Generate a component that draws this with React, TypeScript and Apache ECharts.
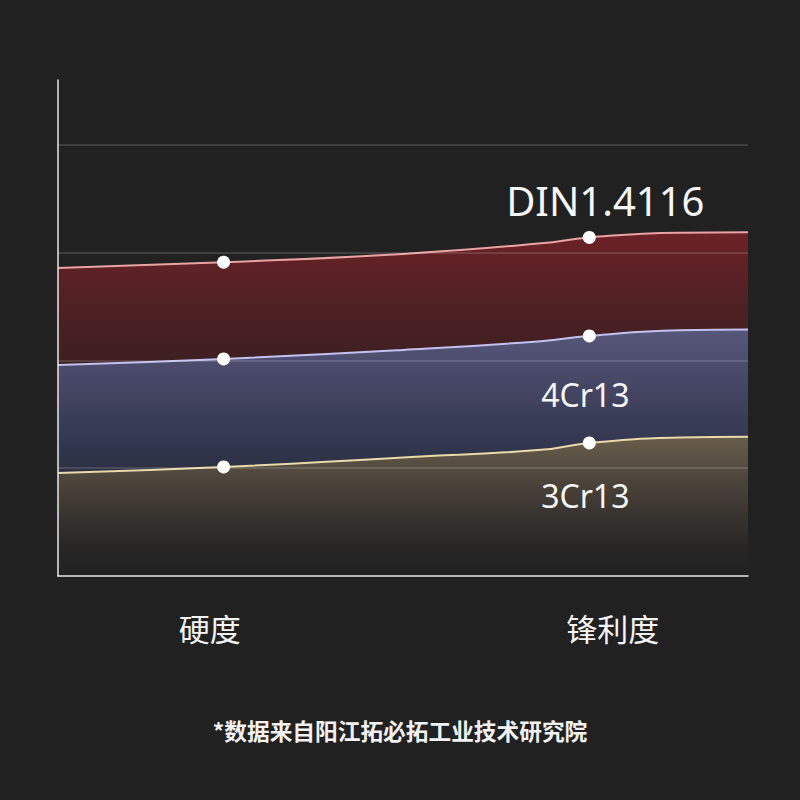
import { useEffect, useRef } from 'react';
import * as echarts from 'echarts';

// x positions of the samples along the chart (0..100)
const samplePos = [0, 24, 50, 70, 77, 90, 100];
// which samples are shown as white dots
const markedSamples = [1, 4];
// sample that carries the series name
const labelSample = 4;

const seriesNames = ['DIN1.4116', '4Cr13', '3Cr13'];
const dinValues = [28.57, 29.1, 29.87, 30.85, 31.4, 31.83, 31.87];
const cr4Values = [19.57, 20.13, 20.96, 21.78, 22.26, 22.78, 22.85];
const cr3Values = [9.55, 10.11, 11.0, 11.7, 12.34, 12.84, 12.92];

const categoryNames = ['硬度', '锋利度'];
const categoryPos = [22, 80.4];

const footnote = '*数据来自阳江拓必拓工业技术研究院';

const BG = '#212121';

const styles = [
  { line: '#e9a3a3', top: 'rgba(112,34,38,0.95)', mid: 'rgba(56,30,33,0.7)', labelOffset: [16, -37], fontSize: 40 },
  { line: '#c3c2ef', top: 'rgba(88,90,128,0.95)', mid: 'rgba(50,58,86,0.8)', labelOffset: [-4, 59], fontSize: 32 },
  { line: '#ead9aa', top: 'rgba(108,96,74,0.95)', mid: 'rgba(70,62,50,0.7)', labelOffset: [-4, 53], fontSize: 32 },
];

export default function App() {
  const ref = useRef<HTMLDivElement | null>(null);

  useEffect(() => {
    if (!ref.current) return;
    const chart = echarts.init(ref.current, undefined, { renderer: 'svg' });
    const allValues = [dinValues, cr4Values, cr3Values];

    chart.setOption({
      animation: false,
      backgroundColor: BG,
      title: {
        text: footnote,
        left: 'center',
        top: 714,
        textStyle: {
          color: '#f2f2f2',
          fontSize: 22.7,
          fontWeight: 'bold',
          fontFamily: 'Noto Sans CJK SC',
        },
      },
      grid: { left: 58, right: 52, top: 80, bottom: 224 },
      xAxis: {
        type: 'value',
        min: 0,
        max: 100,
        z: 3,
        axisLine: { show: true, lineStyle: { color: '#e8e8e8', width: 1.5 } },
        axisTick: { show: false },
        splitLine: { show: false },
        axisLabel: {
          customValues: categoryPos,
          margin: 36,
          color: '#f4f4f4',
          fontSize: 31,
          fontFamily: 'Noto Sans CJK SC',
          formatter: (v: number) => {
            const i = categoryPos.findIndex((p) => Math.abs(p - v) < 0.01);
            return i >= 0 ? categoryNames[i] : '';
          },
        },
      },
      yAxis: {
        type: 'value',
        min: 0,
        max: 46,
        interval: 10,
        z: 3,
        axisLine: { show: true, lineStyle: { color: '#e8e8e8', width: 1.5 } },
        axisTick: { show: false },
        axisLabel: { show: false },
        splitLine: {
          show: true,
          showMinLine: false,
          showMaxLine: false,
          lineStyle: { color: 'rgba(255,255,255,0.18)', width: 1.5 },
        },
      },
      series: allValues.map((values, si) => {
        const st = styles[si];
        return {
          name: seriesNames[si],
          type: 'line',
          smooth: 0.5,
          z: 2 + si * 0.1,
          symbol: 'circle',
          symbolSize: 13,
          lineStyle: { color: st.line, width: 2 },
          itemStyle: { color: '#ffffff' },
          areaStyle: {
            opacity: 1,
            color: new echarts.graphic.LinearGradient(0, 0, 0, 1, [
              { offset: 0, color: st.top },
              { offset: 0.5, color: st.mid },
              { offset: 1, color: 'rgba(33,33,33,0.2)' },
            ]),
          },
          data: values.map((v, i) => {
            const item: any = { value: [samplePos[i], v] };
            if (!markedSamples.includes(i)) item.symbol = 'none';
            if (i === labelSample) {
              item.label = {
                show: true,
                position: 'inside',
                offset: st.labelOffset,
                formatter: seriesNames[si],
                color: '#f6f6f6',
                fontSize: st.fontSize,
                fontFamily: 'Noto Sans',
                align: 'center',
                verticalAlign: 'middle',
              };
            }
            return item;
          }),
        };
      }),
    });

    return () => chart.dispose();
  }, []);

  return (
    <div
      ref={ref}
      style={{ position: 'fixed', left: 0, top: 0, width: 800, height: 800 }}
    />
  );
}
